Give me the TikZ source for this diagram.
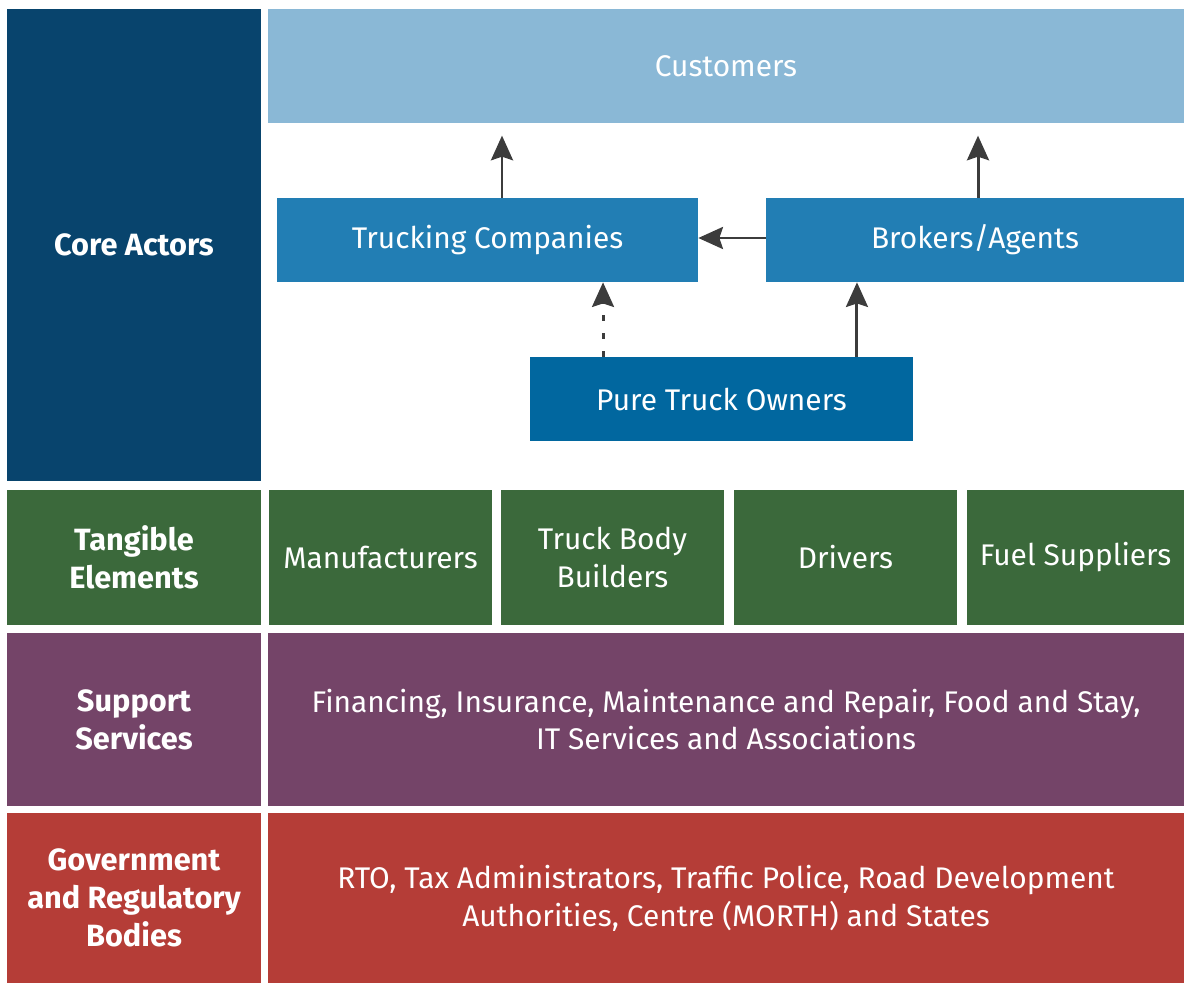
\documentclass[tikz,border=0pt]{standalone}
\usepackage{fontspec}
\setmainfont{Fira Sans}
\usetikzlibrary{arrows.meta}

\definecolor{coreblue}{HTML}{08446D}
\definecolor{custblue}{HTML}{8AB8D6}
\definecolor{actorblue}{HTML}{227EB4}
\definecolor{ownerblue}{HTML}{01679F}
\definecolor{tanggreen}{HTML}{3B693B}
\definecolor{supppurple}{HTML}{744468}
\definecolor{govred}{HTML}{B53D37}
\definecolor{arrowgray}{HTML}{3C3C3C}

\tikzset{
	box/.style={rectangle, inner sep=0pt, text=white, align=center, font=\fontsize{17}{21.5}\selectfont},
	head/.style={box, font=\fontsize{17.5}{21.5}\selectfont\bfseries},
	arr/.style={->, draw=arrowgray, line width=1.7pt, >={Stealth[length=14pt, width=12.5pt, inset=2pt]}}
}

\begin{document}
\begin{tikzpicture}[x=0.02cm, y=-0.02cm, line join=round]
	\useasboundingbox (0,0) rectangle (1184,983);
	% left column
	\node[head, fill=coreblue, minimum width=5.08cm, minimum height=9.44cm] (core) at (134,245) {Core Actors};
	\node[head, fill=tanggreen, minimum width=5.08cm, minimum height=2.70cm] (tangible) at (134,557.5) {Tangible\\Elements};
	\node[head, fill=supppurple, minimum width=5.08cm, minimum height=3.46cm] (support) at (134,719.5) {Support\\Services};
	\node[head, fill=govred, minimum width=5.08cm, minimum height=3.40cm] (gov) at (134,898) {Government\\and Regulatory\\Bodies};
	% core actors
	\node[box, fill=custblue, minimum width=18.32cm, minimum height=2.28cm] (customers) at (726,66) {Customers};
	\node[box, fill=actorblue, minimum width=8.42cm, minimum height=1.68cm] (trucking) at (487.5,240) {Trucking Companies};
	\node[box, fill=actorblue, minimum width=8.36cm, minimum height=1.68cm] (brokers) at (975,240) {Brokers/Agents};
	\node[box, fill=ownerblue, minimum width=7.66cm, minimum height=1.68cm] (owners) at (721.5,399) {Pure Truck Owners};
	% tangible elements
	\node[box, fill=tanggreen, minimum width=4.46cm, minimum height=2.70cm] (manuf) at (380.5,557.5) {Manufacturers};
	\node[box, fill=tanggreen, minimum width=4.46cm, minimum height=2.70cm] (bodies) at (612.5,557.5) {Truck Body\\Builders};
	\node[box, fill=tanggreen, minimum width=4.46cm, minimum height=2.70cm] (drivers) at (845.5,557.5) {Drivers};
	\node[box, fill=tanggreen, minimum width=4.34cm, minimum height=2.70cm] (fuel) at (1075.5,557.5) {Fuel Suppliers};
	% services and regulators
	\node[box, fill=supppurple, minimum width=18.32cm, minimum height=3.46cm] (services) at (726,719.5) {Financing, Insurance, Maintenance and Repair, Food and Stay,\\IT Services and Associations};
	\node[box, fill=govred, minimum width=18.32cm, minimum height=3.40cm] (regulators) at (726,898) {RTO, Tax Administrators, Traffic Police, Road Development\\Authorities, Centre (MORTH) and States};
	% flows between actors
	\draw[arr, shorten >=7pt] ([xshift=0.29cm]trucking.north) coordinate (t1) -- (t1 |- customers.south);
	\draw[arr, shorten >=7pt] ([xshift=0.06cm]brokers.north) coordinate (b1) -- (b1 |- customers.south);
	\draw[arr] ([yshift=0.04cm]brokers.west) -- ([yshift=0.04cm]trucking.east);
	\draw[arr, dash pattern=on 3.2pt off 7pt] ([xshift=-2.37cm]owners.north) coordinate (o1) -- (o1 |- trucking.south);
	\draw[arr] ([xshift=2.71cm]owners.north) coordinate (o2) -- (o2 |- brokers.south);
\end{tikzpicture}
\end{document}
